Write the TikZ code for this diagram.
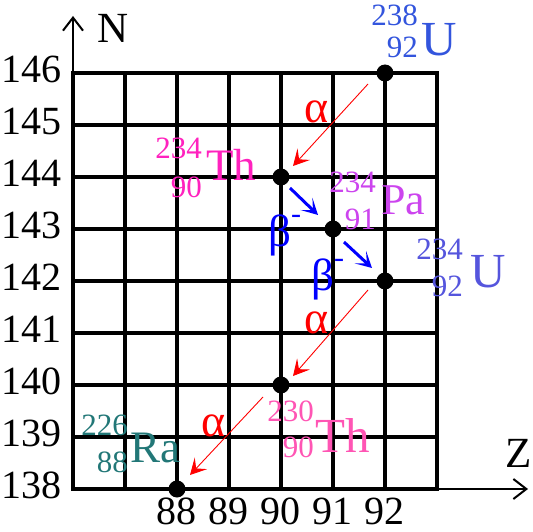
\documentclass[tikz,border=0pt]{standalone}
\usepackage{fontspec}
\setmainfont{Liberation Serif}
\usetikzlibrary{arrows.meta}
\definecolor{cUa}{RGB}{51,85,221}
\definecolor{cTha}{RGB}{255,34,190}
\definecolor{cPa}{RGB}{204,68,238}
\definecolor{cUb}{RGB}{85,85,221}
\definecolor{cThb}{RGB}{255,85,180}
\definecolor{cRa}{RGB}{34,119,119}
\begin{document}
\begin{tikzpicture}[x=1pt,y=-1pt,
  gridline/.style={line width=3.4pt,line cap=rect},
  axisline/.style={line width=2pt,-{Straight Barb[length=13pt,width=20pt,line width=2pt]}},
  dot/.style={circle,fill=black,inner sep=0pt,minimum size=17pt},
  lab/.style={inner sep=0pt,font=\fontsize{40}{40}\selectfont},
  axlab/.style={inner sep=0pt,font=\fontsize{43}{43}\selectfont},
  num/.style={inner sep=0pt,anchor=east,font=\fontsize{31}{31}\selectfont},
  sym/.style={inner sep=0pt,anchor=west},
  alphaarrow/.style={red,line width=0.9pt,-{Stealth[length=16pt,width=17pt,inset=7pt]}},
  betaarrow/.style={blue,line width=3pt,-{Stealth[length=16pt,width=17pt,inset=9pt]}},
  alphalab/.style={red,inner sep=0pt,font=\fontsize{46}{46}\selectfont},
  betalab/.style={blue,inner sep=0pt,anchor=base west,font=\fontsize{45}{45}\selectfont}
]
\useasboundingbox (0,0) rectangle (533,532);
% grid
\foreach \i in {0,...,7} \draw[gridline] ({73+52*\i},73) -- ({73+52*\i},489);
\foreach \j in {0,...,8} \draw[gridline] (73,{73+52*\j}) -- (437,{73+52*\j});
% axes
\coordinate (o) at (73,489);
\coordinate (ytip) at (73,16);
\coordinate (xtip) at (528,489);
\draw[axisline] (o) -- (ytip);
\draw[axisline] (o) -- (xtip);
\node[axlab] (nlab) at (113,28) {N};
\node[axlab] (zlab) at (519,453) {Z};
% axis numbers
\foreach \n [count=\j from 0] in {146,145,144,143,142,141,140,139,138}
  \node[lab,anchor=east] (n\n) at (62,{73+52*\j-4}) {\n};
\foreach \z [count=\i from 2] in {88,89,90,91,92}
  \node[lab] (z\z) at ({73+52*\i-1},511) {\z};
% nuclei
\node[dot] (u238) at (385,73) {};
\node[dot] (th234) at (281,177) {};
\node[dot] (pa234) at (333,229) {};
\node[dot] (u234) at (385,281) {};
\node[dot] (th230) at (281,385) {};
\node[dot] (ra226) at (177,489) {};
% nuclide labels
\node[num,text=cUa] (u238m) at (418,15) {238};
\node[num,text=cUa] (u238z) at (418,47) {92};
\node[sym,text=cUa,font=\fontsize{49}{49}\selectfont] (u238s) at (421,40) {U};
\node[num,text=cTha] (th234m) at (202,148) {234};
\node[num,text=cTha] (th234z) at (202,187) {90};
\node[sym,text=cTha,font=\fontsize{45}{45}\selectfont] (th234s) at (206,165) {Th};
\node[num,text=cPa] (pa234m) at (376,182) {234};
\node[num,text=cPa] (pa234z) at (376,219) {91};
\node[sym,text=cPa,font=\fontsize{44}{44}\selectfont] (pa234s) at (381,200) {Pa};
\node[num,text=cUb] (u234m) at (463,249) {234};
\node[num,text=cUb] (u234z) at (463,286) {92};
\node[sym,text=cUb,font=\fontsize{49}{49}\selectfont] (u234s) at (470,272) {U};
\node[num,text=cThb] (th230m) at (314,411) {230};
\node[num,text=cThb] (th230z) at (314,447) {90};
\node[sym,text=cThb,font=\fontsize{49}{49}\selectfont] (th230s) at (315,435) {Th};
\node[num,text=cRa] (ra226m) at (128,425) {226};
\node[num,text=cRa] (ra226z) at (128,462) {88};
\node[sym,text=cRa,font=\fontsize{45}{45}\selectfont] (ra226s) at (130,448) {Ra};
% decays
\draw[alphaarrow] ([shift={(-17,11)}]u238.center) -- ([shift={(12,-11)}]th234.center);
\draw[alphaarrow] ([shift={(-17,9)}]u234.center) -- ([shift={(12,-9)}]th230.center);
\draw[alphaarrow] ([shift={(-18,12)}]th230.center) -- ([shift={(13,-14)}]ra226.center);
\draw[betaarrow] ([shift={(9,11)}]th234.center) -- ([shift={(-15,-14)}]pa234.center);
\draw[betaarrow] ([shift={(11,13)}]pa234.center) -- ([shift={(-13,-13)}]u234.center);
\node[alphalab] (a1) at (317,112) {α};
\node[alphalab] (a2) at (317,323) {α};
\node[alphalab] (a3) at (214,426) {α};
\node[betalab] (b1) at (268,246) {β\raisebox{23pt}{\fontsize{30}{30}\selectfont -}};
\node[betalab] (b2) at (311,290) {β\raisebox{23pt}{\fontsize{30}{30}\selectfont -}};
\end{tikzpicture}
\end{document}
